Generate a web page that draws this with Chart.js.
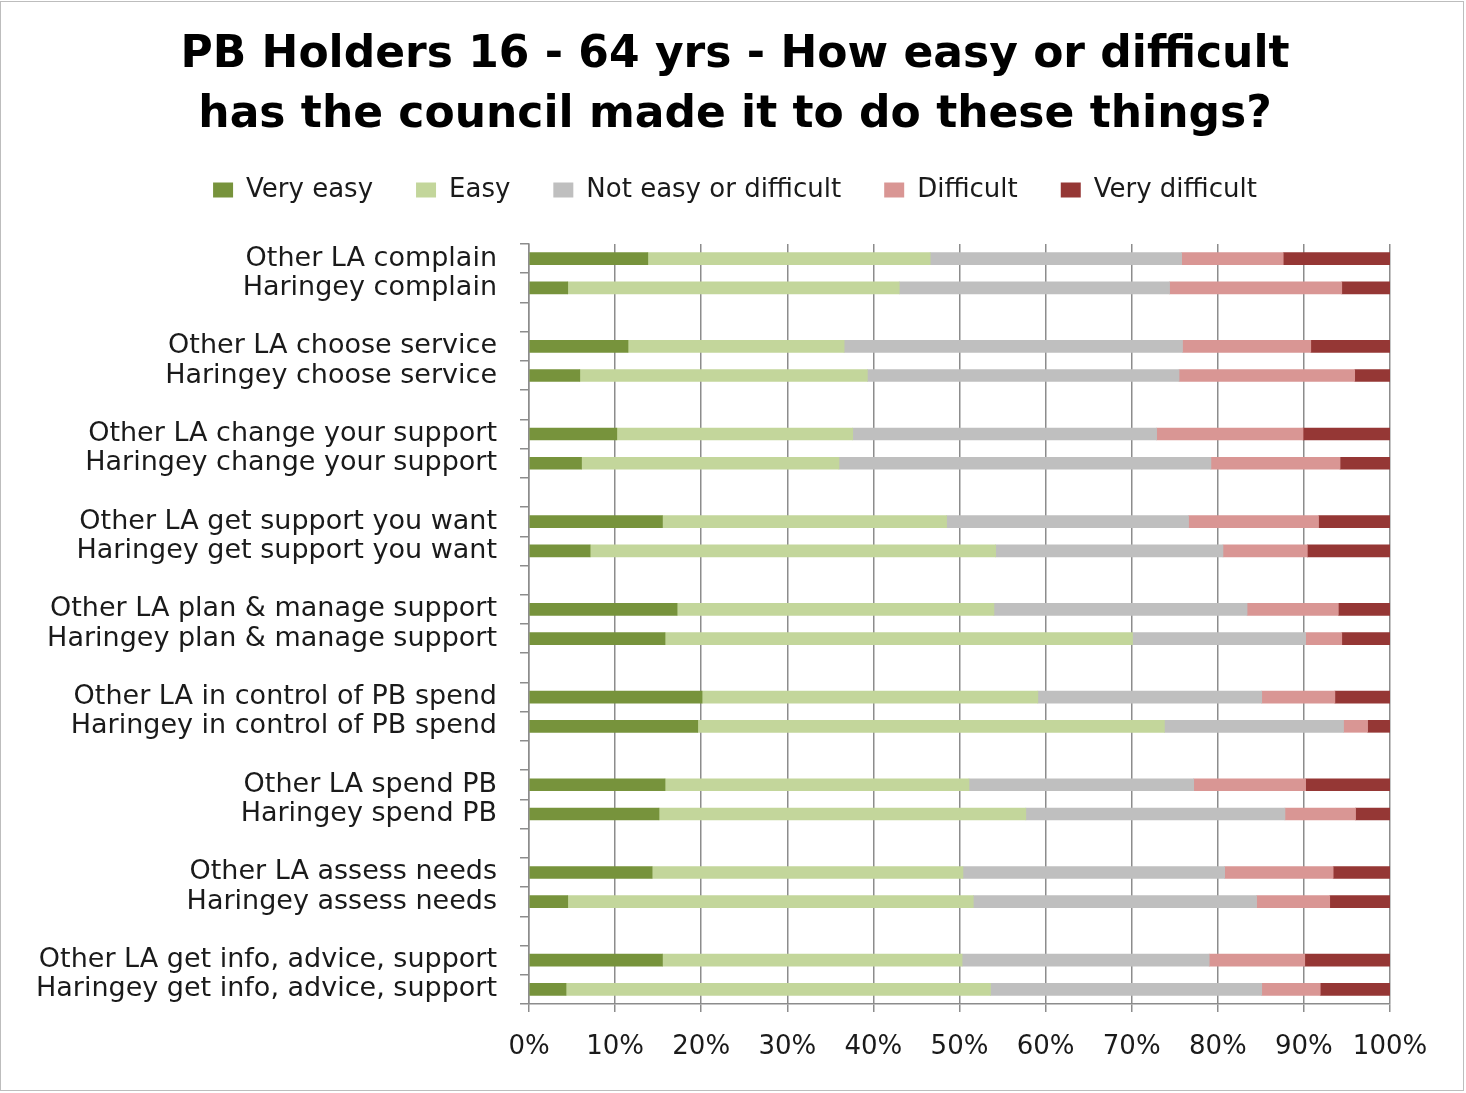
<!DOCTYPE html>
<html>
<head>
<meta charset="utf-8">
<script src="https://cdn.jsdelivr.net/npm/chart.js@4.4.1/dist/chart.umd.min.js"></script>
<style>
  html, body { margin: 0; padding: 0; background: #fff; }
  #wrap { position: absolute; left: 0; top: 0; width: 1466px; height: 1093px; }
  #frame { position: absolute; left: 0; top: 1px; width: 1462px; height: 1088px; border: 1px solid #bdbdbd; pointer-events: none; }
</style>
</head>
<body>
<div id="wrap"><canvas id="c" width="1466" height="1093"></canvas><div id="frame"></div></div>
<script>
const titleLines = ['PB Holders 16 - 64 yrs - How easy or difficult', 'has the council made it to do these things?'];
const seriesNames = ['Very easy', 'Easy', 'Not easy or difficult', 'Difficult', 'Very difficult'];
const categories = [
  'Other LA complain', 'Haringey complain', '',
  'Other LA choose service', 'Haringey choose service', '',
  'Other LA change your support', 'Haringey change your support', '',
  'Other LA get support you want', 'Haringey get support you want', '',
  'Other LA plan & manage support', 'Haringey plan & manage support', '',
  'Other LA in control of PB spend', 'Haringey in control of PB spend', '',
  'Other LA spend PB', 'Haringey spend PB', '',
  'Other LA assess needs', 'Haringey assess needs', '',
  'Other LA get info, advice, support', 'Haringey get info, advice, support'
];
const veryEasy = [13.8, 4.5, null, 11.5, 5.9, null, 10.2, 6.1, null, 15.5, 7.1, null, 17.2, 15.8, null, 20.1, 19.6, null, 15.8, 15.1, null, 14.3, 4.5, null, 15.5, 4.3];
const easy = [32.8, 38.5, null, 25.1, 33.4, null, 27.4, 29.9, null, 33.0, 47.1, null, 36.8, 54.3, null, 39.0, 54.2, null, 35.3, 42.6, null, 36.1, 47.1, null, 34.8, 49.3];
const notEasy = [29.2, 31.4, null, 39.3, 36.2, null, 35.3, 43.2, null, 28.1, 26.4, null, 29.4, 20.1, null, 26.0, 20.8, null, 26.1, 30.1, null, 30.4, 32.9, null, 28.7, 31.5];
const difficult = [11.8, 20.0, null, 14.9, 20.4, null, 17.0, 15.0, null, 15.1, 9.8, null, 10.6, 4.2, null, 8.5, 2.8, null, 13.0, 8.2, null, 12.6, 8.5, null, 11.1, 6.8];
const veryDifficult = [12.4, 5.6, null, 9.2, 4.1, null, 10.1, 5.8, null, 8.3, 9.6, null, 6.0, 5.6, null, 6.4, 2.6, null, 9.8, 4.0, null, 6.6, 7.0, null, 9.9, 8.1];
const xTicks = [0, 10, 20, 30, 40, 50, 60, 70, 80, 90, 100];

const colors = ['#77933C', '#C3D69B', '#BFBFBF', '#D99694', '#953735'];
const seriesData = [veryEasy, easy, notEasy, difficult, veryDifficult];
const FONT = 'DejaVu Sans, Verdana, sans-serif';
const TEXT = '#1a1a1a';

const legendGap = {
  id: 'legendGap',
  beforeInit(chart) {
    const orig = chart.legend.fit;
    chart.legend.fit = function () {
      orig.call(this);
      this.height += 31;
    };
  }
};

new Chart(document.getElementById('c'), {
  type: 'bar',
  data: {
    labels: categories,
    datasets: seriesData.map((d, i) => ({
      label: seriesNames[i],
      data: d,
      backgroundColor: colors[i],
      borderWidth: 0,
      barThickness: 12
    }))
  },
  options: {
    indexAxis: 'y',
    responsive: false,
    animation: false,
    layout: { padding: { left: 4, right: 0, top: 0, bottom: 29 } },
    plugins: {
      tooltip: { enabled: false },
      title: {
        display: true,
        text: titleLines,
        color: '#000',
        font: { family: FONT, size: 44, weight: 'bold', lineHeight: 60 / 44 },
        padding: { top: 26, bottom: -12 }
      },
      legend: {
        position: 'top',
        labels: {
          color: TEXT,
          font: { family: FONT, size: 26 },
          boxWidth: 20,
          boxHeight: 15,
          padding: 43
        }
      }
    },
    scales: {
      x: {
        stacked: true,
        min: 0,
        max: 100,
        afterBuildTicks(scale) { scale.ticks = xTicks.map(v => ({ value: v })); },
        afterFit(scale) { scale.height = 60; },
        border: { display: true, color: '#8c8c8c', width: 1.5 },
        grid: { color: '#8c8c8c', lineWidth: 1.5, drawTicks: true, tickLength: 8, tickColor: '#8c8c8c' },
        ticks: {
          color: TEXT,
          font: { family: FONT, size: 26 },
          padding: 20,
          callback: v => v + '%'
        }
      },
      y: {
        stacked: true,
        afterFit(scale) { scale.width = 525; },
        border: { display: true, color: '#8c8c8c', width: 1.5 },
        grid: { display: true, drawOnChartArea: false, drawTicks: true, tickLength: 9, tickColor: '#8c8c8c', lineWidth: 1.5 },
        ticks: {
          color: TEXT,
          font: { family: FONT, size: 27 },
          padding: 23,
          autoSkip: false
        }
      },
      yRight: {
        type: 'category',
        position: 'right',
        afterFit(scale) { scale.width = 76; },
        grid: { display: false, drawTicks: false },
        border: { display: false },
        ticks: { display: false }
      }
    }
  },
  plugins: [legendGap]
});
</script>
</body>
</html>
